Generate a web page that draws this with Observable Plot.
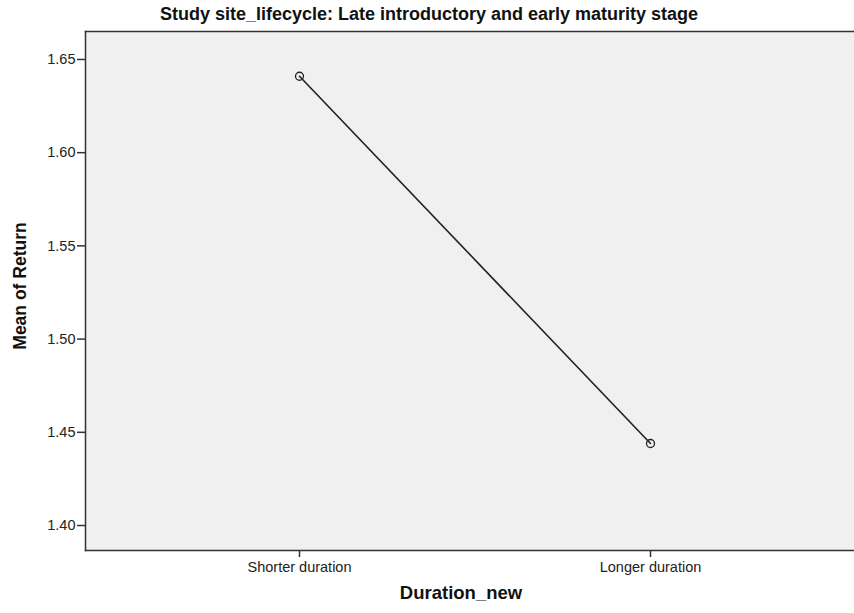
<!DOCTYPE html>
<html>
<head>
<meta charset="utf-8">
<script src="https://cdn.jsdelivr.net/npm/d3@7"></script>
<script src="https://cdn.jsdelivr.net/npm/@observablehq/plot@0.6"></script>
<style>
  html, body { margin: 0; padding: 0; background: #fff; }
  svg { display: block; }
</style>
</head>
<body>
<div id="chart"></div>
<script>
const categories = ["Shorter duration", "Longer duration"];
const means = [1.641, 1.444];
const yTicks = [1.40, 1.45, 1.50, 1.55, 1.60, 1.65];
const chartTitle = "Study site_lifecycle: Late introductory and early maturity stage";
const xTitle = "Duration_new";
const yTitle = "Mean of Return";

const data = categories.map((c, i) => ({category: c, mean: means[i]}));
const font = "'Liberation Sans', Arial, sans-serif";

const chart = Plot.plot({
  width: 854,
  height: 613,
  marginTop: 31,
  marginBottom: 63,
  marginLeft: 85,
  marginRight: 0,
  style: {fontFamily: font, background: "#fff", color: "#222"},
  x: {type: "point", domain: categories, range: [299, 650], padding: 0},
  y: {domain: [1.3866, 1.665]},
  marks: [
    Plot.frame({fill: "#f0f0f0"}),
    Plot.frame({stroke: "#333", strokeWidth: 1.5, anchor: "left"}),
    Plot.frame({stroke: "#333", strokeWidth: 1.5, anchor: "top"}),
    Plot.frame({stroke: "#333", strokeWidth: 1.5, anchor: "bottom"}),
    Plot.axisY({ticks: yTicks, tickFormat: d3.format(".2f"), tickSize: 8, tickPadding: 2, fontSize: 14.5, stroke: "#333", strokeWidth: 1.5, label: null}),
    Plot.axisX({tickSize: 7, tickPadding: 4, fontSize: 14.5, stroke: "#333", strokeWidth: 1.5, label: null}),
    Plot.line(data, {x: "category", y: "mean", stroke: "#222", strokeWidth: 1.6}),
    Plot.dot(data, {x: "category", y: "mean", r: 4, stroke: "#222", strokeWidth: 1.3, fill: "none"}),
    Plot.text([chartTitle], {text: d => d, frameAnchor: "top", dx: -41, dy: -24, fontSize: 18, fontWeight: "bold", fill: "#111"}),
    Plot.text([xTitle], {text: d => d, frameAnchor: "bottom", dx: -9, dy: 48, fontSize: 18.5, fontWeight: "bold", fill: "#111"}),
    Plot.text([yTitle], {text: d => d, frameAnchor: "left", textAnchor: "middle", dx: -65, dy: -5, rotate: -90, fontSize: 17.5, fontWeight: "bold", fill: "#111"})
  ]
});
document.getElementById("chart").appendChild(chart);
</script>
</body>
</html>
